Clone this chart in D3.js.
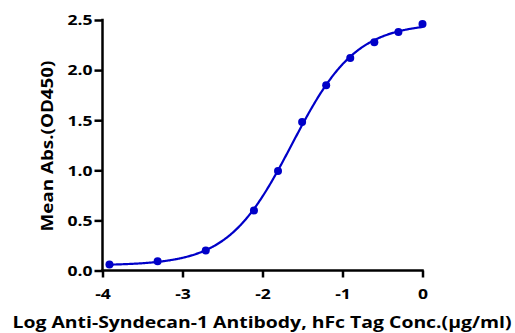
<!DOCTYPE html>
<html>
<head>
<meta charset="utf-8">
<script src="https://cdn.jsdelivr.net/npm/d3@7"></script>
<style>
  html, body { margin: 0; padding: 0; background: #fff; }
  svg { display: block; }
  text { font-family: "Open Sans", sans-serif; font-weight: 700; fill: #000; }
</style>
</head>
<body>
<svg id="chart" width="515" height="333"></svg>
<script>
// Log10 concentration (µg/ml) and mean absorbance at 450 nm
const logConc = [-3.913, -3.311, -2.709, -2.107, -1.806, -1.505, -1.204, -0.903, -0.602, -0.301, 0.0];
const meanAbs = [0.06, 0.093, 0.20, 0.60, 0.993, 1.483, 1.85, 2.12, 2.277, 2.38, 2.46];

const xTicks = [-4, -3, -2, -1, 0];
const yTicks = [0.0, 0.5, 1.0, 1.5, 2.0, 2.5];

const xTitle = "Log Anti-Syndecan-1 Antibody, hFc Tag Conc.(μg/ml)";
const yTitle = "Mean Abs.(OD450)";

const blue = "#0000c8";
const font = "'Open Sans', sans-serif";
const widen = 1.17; // lettering is set slightly wide

// Four-parameter logistic model: [bottom, top, logEC50, hill]
function fourPL(p, x) {
  return p[0] + (p[1] - p[0]) / (1 + Math.pow(10, (p[2] - x) * p[3]));
}

function sse(p) {
  let s = 0;
  for (let i = 0; i < logConc.length; i++) {
    const r = fourPL(p, logConc[i]) - meanAbs[i];
    s += r * r;
  }
  return s;
}

// Nelder-Mead least-squares fit of the logistic curve
function fit(start) {
  const n = start.length;
  let simplex = [start.slice()];
  for (let i = 0; i < n; i++) {
    const v = start.slice();
    v[i] += 0.1 * Math.abs(v[i]) + 0.05;
    simplex.push(v);
  }
  let vals = simplex.map(sse);
  for (let iter = 0; iter < 4000; iter++) {
    const idx = d3.range(n + 1).sort((a, b) => vals[a] - vals[b]);
    simplex = idx.map(i => simplex[i]);
    vals = idx.map(i => vals[i]);
    const c = d3.range(n).map(j => d3.mean(simplex.slice(0, n), v => v[j]));
    const w = simplex[n];
    const xr = c.map((cj, j) => cj + (cj - w[j]));
    const fr = sse(xr);
    if (fr < vals[0]) {
      const xe = c.map((cj, j) => cj + 2 * (cj - w[j]));
      const fe = sse(xe);
      if (fe < fr) { simplex[n] = xe; vals[n] = fe; } else { simplex[n] = xr; vals[n] = fr; }
    } else if (fr < vals[n - 1]) {
      simplex[n] = xr; vals[n] = fr;
    } else {
      const xc = c.map((cj, j) => cj + 0.5 * (w[j] - cj));
      const fc = sse(xc);
      if (fc < vals[n]) { simplex[n] = xc; vals[n] = fc; }
      else {
        for (let i = 1; i <= n; i++) {
          simplex[i] = simplex[i].map((v, j) => simplex[0][j] + 0.5 * (v - simplex[0][j]));
          vals[i] = sse(simplex[i]);
        }
      }
    }
  }
  return simplex[d3.minIndex(vals)];
}

const params = fit([0.06, 2.5, -1.62, 1.1]);

const svg = d3.select("#chart");
const x = d3.scaleLinear().domain([-4, 0]).range([102.5, 422.5]);
const y = d3.scaleLinear().domain([0, 2.5]).range([270.5, 20]);

// Fitted curve
const curveXs = d3.range(0, 401).map(i => -3.913 + i * (3.913 / 400));
const line = d3.line().x(d => x(d)).y(d => y(fourPL(params, d)));
svg.append("path")
  .datum(curveXs)
  .attr("d", line)
  .attr("fill", "none")
  .attr("stroke", blue)
  .attr("stroke-width", 2.2);

// Data points
svg.append("g").selectAll("circle")
  .data(logConc.map((c, i) => [c, meanAbs[i]]))
  .join("circle")
  .attr("cx", d => x(d[0]))
  .attr("cy", d => y(d[1]))
  .attr("r", 4)
  .attr("fill", blue);

// Axes (plain hyphen for negative tick labels)
const xAxis = svg.append("g")
  .attr("transform", "translate(0,270.5)")
  .call(d3.axisBottom(x).tickValues(xTicks).tickFormat(d => String(d)).tickSize(7).tickSizeOuter(0));
const yAxis = svg.append("g")
  .attr("transform", "translate(102.5,0)")
  .call(d3.axisLeft(y).tickValues(yTicks).tickFormat(d => d.toFixed(1)).tickSize(8).tickSizeOuter(0));

[xAxis, yAxis].forEach(g => {
  g.attr("font-family", font).attr("font-size", 15).attr("font-weight", 700);
  g.select(".domain").attr("stroke", "#000").attr("stroke-width", 2.5);
  g.selectAll(".tick line").attr("stroke", "#000").attr("stroke-width", 2.5);
  g.selectAll(".tick text")
    .style("font-family", font).style("font-weight", "700").style("font-size", "15px")
    .each(function () {
      d3.select(this)
        .attr("textLength", this.getComputedTextLength() * widen)
        .attr("lengthAdjust", "spacingAndGlyphs");
    });
});
xAxis.select(".domain").attr("d", "M101.25,0H423.75");
yAxis.select(".domain").attr("d", "M0,1.25V18.75");
yAxis.select(".domain").attr("d", "M0,271.75V18.75");
xAxis.selectAll(".tick text").attr("y", 17.5);
yAxis.selectAll(".tick text").attr("x", -10);

// Axis titles
svg.append("text")
  .attr("x", 262)
  .attr("y", 328)
  .attr("text-anchor", "middle")
  .attr("textLength", 499)
  .attr("lengthAdjust", "spacingAndGlyphs")
  .style("font-size", "16.5px")
  .text(xTitle);

svg.append("text")
  .attr("transform", "translate(53,146) rotate(-90)")
  .attr("text-anchor", "middle")
  .attr("textLength", 171)
  .attr("lengthAdjust", "spacingAndGlyphs")
  .style("font-size", "16px")
  .text(yTitle);
</script>
</body>
</html>
